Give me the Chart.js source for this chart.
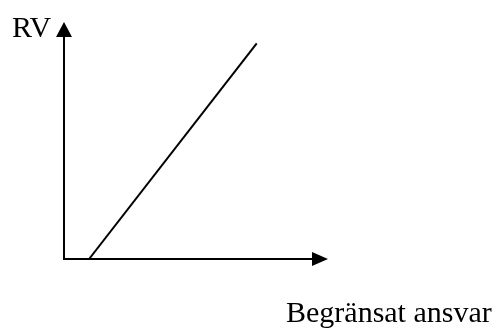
<!DOCTYPE html>
<html>
<head>
<meta charset="utf-8">
<script src="https://cdn.jsdelivr.net/npm/chart.js@4"></script>
<style>
  html, body { margin: 0; padding: 0; background: #fff; }
  #wrap { width: 499px; height: 329px; }
</style>
</head>
<body>
<div id="wrap"><canvas id="chart" width="499" height="329"></canvas></div>
<script>
const xLabel = "Begränsat ansvar";
const yLabel = "RV";
const lineX = [9.5, 73];
const lineY = [0, 91];

const axesPlugin = {
  id: "axesArrows",
  afterDatasetsDraw(chart) {
    const { ctx, chartArea: a } = chart;
    ctx.save();
    ctx.strokeStyle = "#000";
    ctx.fillStyle = "#000";
    ctx.lineWidth = 2;
    // y axis
    ctx.beginPath();
    ctx.moveTo(a.left, a.bottom + 1);
    ctx.lineTo(a.left, a.top + 10);
    ctx.stroke();
    ctx.beginPath();
    ctx.moveTo(a.left, a.top);
    ctx.lineTo(a.left - 8, a.top + 15);
    ctx.lineTo(a.left + 8, a.top + 15);
    ctx.closePath();
    ctx.fill();
    // x axis
    ctx.beginPath();
    ctx.moveTo(a.left - 1, a.bottom);
    ctx.lineTo(a.right - 10, a.bottom);
    ctx.stroke();
    ctx.beginPath();
    ctx.moveTo(a.right, a.bottom);
    ctx.lineTo(a.right - 16, a.bottom - 7);
    ctx.lineTo(a.right - 16, a.bottom + 7);
    ctx.closePath();
    ctx.fill();
    // labels
    ctx.font = "30px 'Liberation Serif'";
    ctx.textBaseline = "alphabetic";
    ctx.textAlign = "left";
    ctx.fillText(yLabel, 12, 37);
    ctx.fillText(xLabel, 286, 322);
    ctx.restore();
  }
};

new Chart(document.getElementById("chart").getContext("2d"), {
  type: "scatter",
  data: {
    datasets: [{
      data: lineX.map((x, i) => ({ x, y: lineY[i] })),
      showLine: true,
      borderColor: "#000",
      borderWidth: 2,
      pointRadius: 0,
      fill: false
    }]
  },
  options: {
    responsive: false,
    animation: false,
    layout: { padding: { left: 64, right: 171, top: 22, bottom: 70 } },
    plugins: { legend: { display: false }, tooltip: { enabled: false } },
    scales: {
      x: { type: "linear", min: 0, max: 100, display: false },
      y: { type: "linear", min: 0, max: 100, display: false }
    }
  },
  plugins: [axesPlugin]
});
</script>
</body>
</html>
